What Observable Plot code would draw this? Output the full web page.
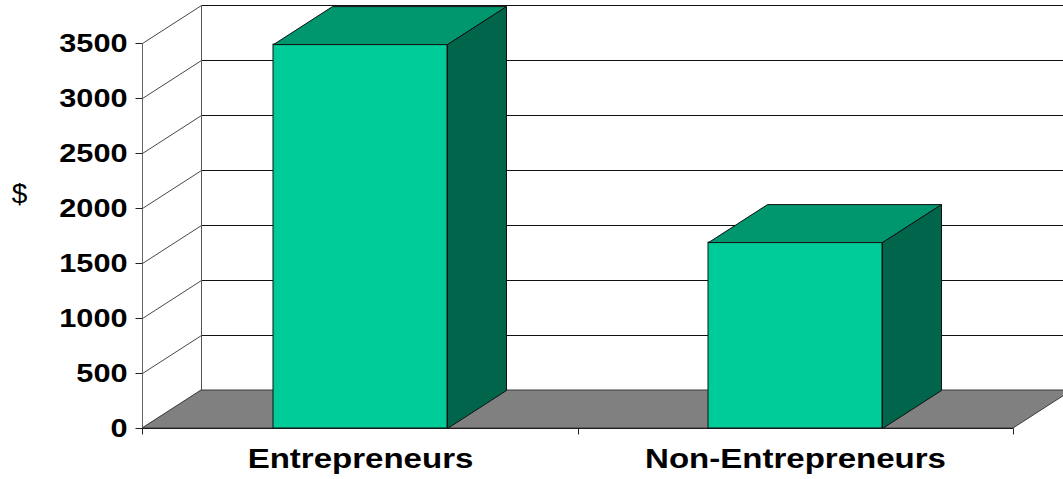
<!DOCTYPE html>
<html>
<head>
<meta charset="utf-8">
<script src="https://cdn.jsdelivr.net/npm/d3@7"></script>
<script src="https://cdn.jsdelivr.net/npm/@observablehq/plot@0.6"></script>
<style>
  html, body { margin: 0; padding: 0; background: #fff; overflow: hidden; }
  #chart { width: 1063px; height: 479px; }
</style>
</head>
<body>
<div id="chart"></div>
<script>
// ---- data ----
const categories = ["Entrepreneurs", "Non-Entrepreneurs"];
const values = [3490, 1690];
const yTicks = [0, 500, 1000, 1500, 2000, 2500, 3000, 3500];
const yLabel = "$";

// ---- style constants ----
const DX = 59, DY = -38;          // 3D depth offset
const C_FRONT = "#00CC99", C_TOP = "#00966E", C_SIDE = "#00654A", C_FLOOR = "#808080";
const STRETCH = 1.18;

const data = categories.map((c, i) => ({category: c, value: values[i]}));

function walls(index, scales, vals, dims) {
  const y = scales.y;
  const x0 = dims.marginLeft, x1 = dims.width - dims.marginRight;
  const y0 = y(0), yTop = y(yTicks[yTicks.length - 1]);
  const g = d3.create("svg:g").attr("fill", "none");
  const lines = g.append("g").attr("transform", "translate(0.5,0.5)");
  for (const t of yTicks) {
    if (t === 0) continue;
    lines.append("line").attr("x1", x0 + DX).attr("x2", x1 + DX + 10)
      .attr("y1", y(t) + DY).attr("y2", y(t) + DY).attr("stroke", "#111");
  }
  for (const t of yTicks) {
    lines.append("line").attr("x1", x0).attr("y1", y(t)).attr("x2", x0 + DX).attr("y2", y(t) + DY)
      .attr("stroke", "#333").attr("stroke-width", 0.9);
  }
  lines.append("line").attr("x1", x0 + DX).attr("x2", x0 + DX).attr("y1", y0 + DY).attr("y2", yTop + DY)
    .attr("stroke", "#555");
  lines.append("line").attr("x1", x0).attr("x2", x0).attr("y1", y0 + 5).attr("y2", yTop)
    .attr("stroke", "#666");
  for (const t of yTicks) {
    lines.append("line").attr("x1", x0 - 7).attr("x2", x0).attr("y1", y(t)).attr("y2", y(t)).attr("stroke", "#222");
  }
  g.append("polygon")
    .attr("points", [[x0, y0], [x1, y0], [x1 + DX, y0 + DY], [x0 + DX, y0 + DY]].map(p => p.join(",")).join(" "))
    .attr("fill", C_FLOOR).attr("stroke", "#3a3a3a").attr("stroke-width", 1);
  lines.append("line").attr("x1", x0).attr("x2", x1).attr("y1", y0).attr("y2", y0).attr("stroke", "#000");
  const x = scales.x;
  const bw = x.bandwidth ? x.bandwidth() : 0;
  const centers = categories.map(c => x(c) + bw / 2);
  const xt = [x0, x1];
  for (let i = 1; i < centers.length; i++) xt.push((centers[i - 1] + centers[i]) / 2);
  for (const v of xt) {
    lines.append("line").attr("x1", Math.round(v)).attr("x2", Math.round(v)).attr("y1", y0).attr("y2", y0 + 6).attr("stroke", "#222");
  }
  return g.node();
}

function bars3d(index, scales) {
  const {x, y} = scales;
  const bw = x.bandwidth();
  const y0 = y(0);
  const g = d3.create("svg:g").attr("stroke", "#111").attr("stroke-width", 1).attr("stroke-linejoin", "round");
  const pts = a => a.map(p => p.join(",")).join(" ");
  for (let i = 0; i < categories.length; i++) {
    const xl = x(categories[i]) + 0.5, xr = xl + bw, yv = y(values[i]) + 0.5;
    g.append("polygon").attr("points", pts([[xl, yv], [xr, yv], [xr + DX, yv + DY], [xl + DX, yv + DY]])).attr("fill", C_TOP);
    g.append("polygon").attr("points", pts([[xr, yv], [xr + DX, yv + DY], [xr + DX, y0 + 0.5 + DY], [xr, y0 + 0.5]])).attr("fill", C_SIDE);
  }
  return g.node();
}

const chart = Plot.plot({
  width: 1063,
  height: 479,
  marginLeft: 142,
  marginRight: 50,
  marginTop: 43,
  marginBottom: 51,
  style: {fontFamily: "'Liberation Sans', Arial, sans-serif", background: "#fff", color: "#000", overflow: "hidden"},
  x: {domain: categories, paddingInner: 0.6, paddingOuter: 0.3, axis: null},
  y: {domain: [0, 3500], axis: null},
  marks: [
    walls,
    Plot.barY(data, {x: "category", y: "value", fill: C_FRONT, stroke: "#111", strokeWidth: 1}),
    bars3d,
    Plot.text(yTicks, {y: d => d, text: d => String(d), frameAnchor: "left", dx: -15, textAnchor: "end",
      lineAnchor: "middle", fontSize: 26, fontWeight: "bold", fill: "#000"}),
    Plot.text(categories, {x: d => d, text: d => d, frameAnchor: "bottom", dy: 31, lineAnchor: "middle",
      fontSize: 28, fontWeight: "bold", fill: "#000"}),
    Plot.text([yLabel], {text: d => d, frameAnchor: "left", dx: -123, dy: -42, textAnchor: "middle",
      lineAnchor: "middle", fontSize: 28, fontWeight: "normal", fill: "#000"})
  ]
});

// horizontal stretch of text to match the reference's wide lettering (keeps vertical attributes intact)
d3.select(chart).selectAll("text").each(function() {
  const t = this;
  if (t.textContent === yLabel) return;
  const xa = t.getAttribute("x");
  let x = 0;
  if (xa !== null && /^-?[\d.]+$/.test(xa.trim())) { x = +xa; t.removeAttribute("x"); }
  const tr = t.getAttribute("transform") || "";
  t.setAttribute("transform", `${tr} translate(${x},0) scale(${STRETCH},1)`);
});

document.getElementById("chart").appendChild(chart);
</script>
</body>
</html>
